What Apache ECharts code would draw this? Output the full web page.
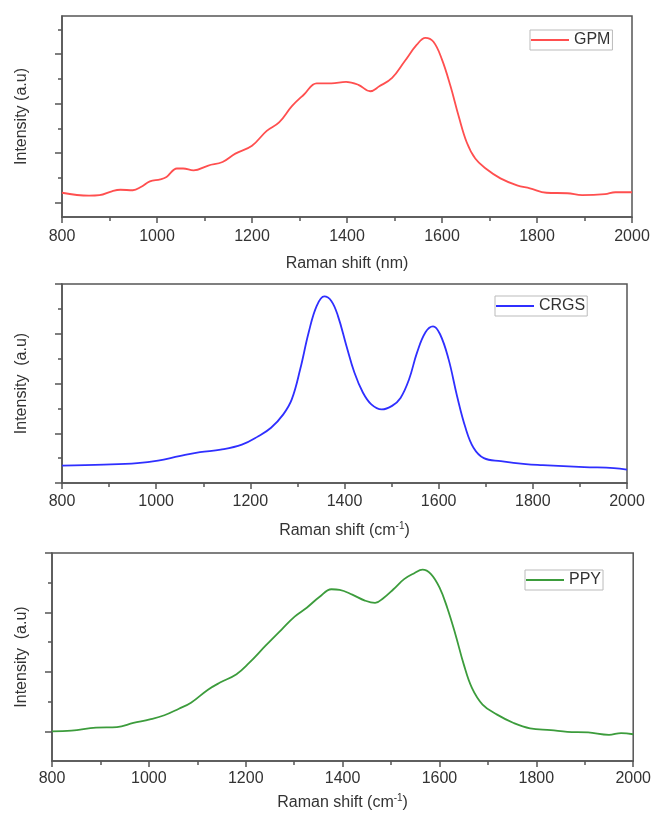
<!DOCTYPE html>
<html>
<head>
<meta charset="utf-8">
<script src="https://cdn.jsdelivr.net/npm/echarts@6/dist/echarts.min.js"></script>
<style>
    html, body { margin: 0; padding: 0; background: #fff; }
    #main { width: 654px; height: 817px; }
</style>
</head>
<body>
<div id="main"></div>
<script>
// GPM
const gpmShift = [800, 857, 879, 905, 923, 949, 967, 985, 1007, 1020, 1042, 1055, 1077, 1108, 1138, 1165, 1200, 1231, 1257, 1284, 1310, 1336, 1367, 1398, 1424, 1449, 1468, 1495, 1521, 1547, 1565, 1582, 1600, 1618, 1635, 1652, 1670, 1692, 1723, 1758, 1785, 1820, 1864, 1895, 1943, 1965, 2000]
const gpmIntensity = [0.2, 0.14, 0.15, 0.23, 0.26, 0.25, 0.32, 0.43, 0.47, 0.52, 0.69, 0.69, 0.65, 0.75, 0.82, 0.99, 1.15, 1.45, 1.62, 1.95, 2.19, 2.41, 2.41, 2.44, 2.38, 2.25, 2.35, 2.52, 2.85, 3.19, 3.33, 3.25, 2.89, 2.35, 1.75, 1.22, 0.89, 0.69, 0.49, 0.35, 0.29, 0.2, 0.19, 0.15, 0.17, 0.21, 0.21]

// CRGS
const crgsShift = [800, 889, 960, 1004, 1049, 1093, 1137, 1182, 1217, 1244, 1270, 1288, 1306, 1324, 1341, 1357, 1372, 1386, 1404, 1421, 1439, 1457, 1479, 1501, 1519, 1537, 1554, 1572, 1588, 1603, 1621, 1639, 1657, 1674, 1696, 1732, 1785, 1821, 1909, 1972, 2000]
const crgsIntensity = [0.35, 0.37, 0.4, 0.45, 0.54, 0.62, 0.67, 0.77, 0.94, 1.11, 1.38, 1.68, 2.29, 3.03, 3.56, 3.75, 3.66, 3.36, 2.76, 2.22, 1.82, 1.58, 1.48, 1.55, 1.71, 2.08, 2.62, 3.03, 3.15, 2.99, 2.49, 1.75, 1.11, 0.71, 0.5, 0.44, 0.38, 0.36, 0.32, 0.3, 0.27]

// PPY
const ppyShift = [800, 840, 891, 934, 968, 1002, 1032, 1062, 1087, 1122, 1147, 1181, 1207, 1241, 1275, 1301, 1326, 1352, 1377, 1394, 1420, 1446, 1467, 1484, 1505, 1527, 1548, 1565, 1582, 1600, 1616, 1633, 1650, 1667, 1689, 1719, 1753, 1787, 1830, 1864, 1907, 1950, 1975, 2000]
const ppyIntensity = [0, 0.01, 0.06, 0.07, 0.14, 0.2, 0.27, 0.38, 0.48, 0.7, 0.82, 0.96, 1.15, 1.44, 1.72, 1.93, 2.08, 2.26, 2.39, 2.38, 2.3, 2.2, 2.16, 2.24, 2.39, 2.56, 2.66, 2.72, 2.65, 2.42, 2.08, 1.63, 1.13, 0.73, 0.45, 0.28, 0.14, 0.05, 0.02, -0.01, -0.02, -0.06, -0.03, -0.05]

// y tick positions (no labels on the intensity axes)
const gpmMajor = [0, 1, 2, 3]
const gpmMinor = [0.5, 1.5, 2.5, 3.5]
const crgsMajor = [0, 1, 2, 3, 4]
const crgsMinor = [0.5, 1.5, 2.5, 3.5]
const ppyMajor = [0, 1, 2, 3]
const ppyMinor = [0.5, 1.5, 2.5]

const axisColor = '#555'
const font = 'Liberation Sans, Arial, sans-serif'

const grids = [
    { left: 62, top: 16, width: 570, height: 201 },
    { left: 62, top: 284, width: 565, height: 199 },
    { left: 52, top: 553, width: 587, height: 208 }
]

const xNames = ['Raman shift (nm)', 'Raman shift (cm{sup|-1})', 'Raman shift (cm{sup|-1})']
const xGaps = [39, 38, 32]
const xMargins = [12, 11, 10]
const yNames = ['Intensity (a.u)', 'Intensity  (a.u)', 'Intensity  (a.u)']
const yGaps = [32, 32, 22]
const yRanges = [[-0.29, 3.77], [0, 4], [-0.5, 3]]
const majors = [gpmMajor, crgsMajor, ppyMajor]
const minors = [gpmMinor, crgsMinor, ppyMinor]

const names = ['GPM', 'CRGS', 'PPY']
const colors = ['#ff4f4f', '#2f2fff', '#3c9c3c']
const shifts = [gpmShift, crgsShift, ppyShift]
const intensities = [gpmIntensity, crgsIntensity, ppyIntensity]
const legendPos = [[530, 30], [495, 296], [525, 570]]

const chart = echarts.init(document.getElementById('main'))

const xAxis = grids.map((g, i) => ({
    gridIndex: i,
    type: 'value',
    min: 800,
    max: 2000,
    interval: 200,
    name: xNames[i],
    nameLocation: 'middle',
    nameGap: xGaps[i],
    nameTextStyle: {
        fontSize: 16, color: '#333', fontFamily: font,
        rich: { sup: { fontSize: 10, color: '#333', fontFamily: font, padding: [0, 0, 9, 0] } }
    },
    axisLine: { show: true, onZero: false, lineStyle: { color: axisColor, width: 1.5 } },
    axisTick: { show: true, length: 6, lineStyle: { color: axisColor, width: 1.5 } },
    minorTick: { show: true, splitNumber: 2, length: 4, lineStyle: { color: axisColor, width: 1.5 } },
    axisLabel: { fontSize: 16, color: '#333', fontFamily: font, margin: xMargins[i], formatter: v => String(v) },
    splitLine: { show: false }
}))

const yAxis = []
grids.forEach((g, i) => {
    yAxis.push({
        gridIndex: i,
        type: 'value',
        position: 'left',
        min: yRanges[i][0],
        max: yRanges[i][1],
        name: yNames[i],
        nameLocation: 'middle',
        nameGap: yGaps[i],
        nameTextStyle: { fontSize: 16, color: '#333', fontFamily: font },
        axisLine: { show: true, onZero: false, lineStyle: { color: axisColor, width: 1.5 } },
        axisTick: { show: true, length: 7, customValues: majors[i], lineStyle: { color: axisColor, width: 1.5 } },
        axisLabel: { show: false },
        splitLine: { show: false }
    })
    // minor ticks
    yAxis.push({
        gridIndex: i,
        type: 'value',
        position: 'left',
        offset: 0,
        min: yRanges[i][0],
        max: yRanges[i][1],
        axisLine: { show: false, onZero: false },
        axisTick: { show: true, length: 4, customValues: minors[i], lineStyle: { color: axisColor, width: 1.5 } },
        axisLabel: { show: false },
        splitLine: { show: false }
    })
})

chart.setOption({
    animation: false,
    grid: grids.map(g => ({ ...g, show: true, borderColor: axisColor, borderWidth: 1.5, backgroundColor: 'transparent' })),
    xAxis,
    yAxis,
    legend: names.map((n, i) => ({
        data: [n],
        left: legendPos[i][0],
        top: legendPos[i][1],
        icon: 'rect',
        itemWidth: 38,
        itemHeight: 2,
        itemGap: 0,
        padding: [2, 2, 2, 1],
        borderColor: '#bbb',
        borderWidth: 1,
        textStyle: { fontSize: 16, color: '#333', fontFamily: font, padding: [0, 0, 0, 0] }
    })),
    series: names.map((n, i) => ({
        name: n,
        type: 'line',
        xAxisIndex: i,
        yAxisIndex: i * 2,
        symbol: 'none',
        smooth: 0.4,
        lineStyle: { color: colors[i], width: 1.8 },
        itemStyle: { color: colors[i] },
        data: shifts[i].map((x, k) => [x, intensities[i][k]])
    }))
})
</script>
</body>
</html>
